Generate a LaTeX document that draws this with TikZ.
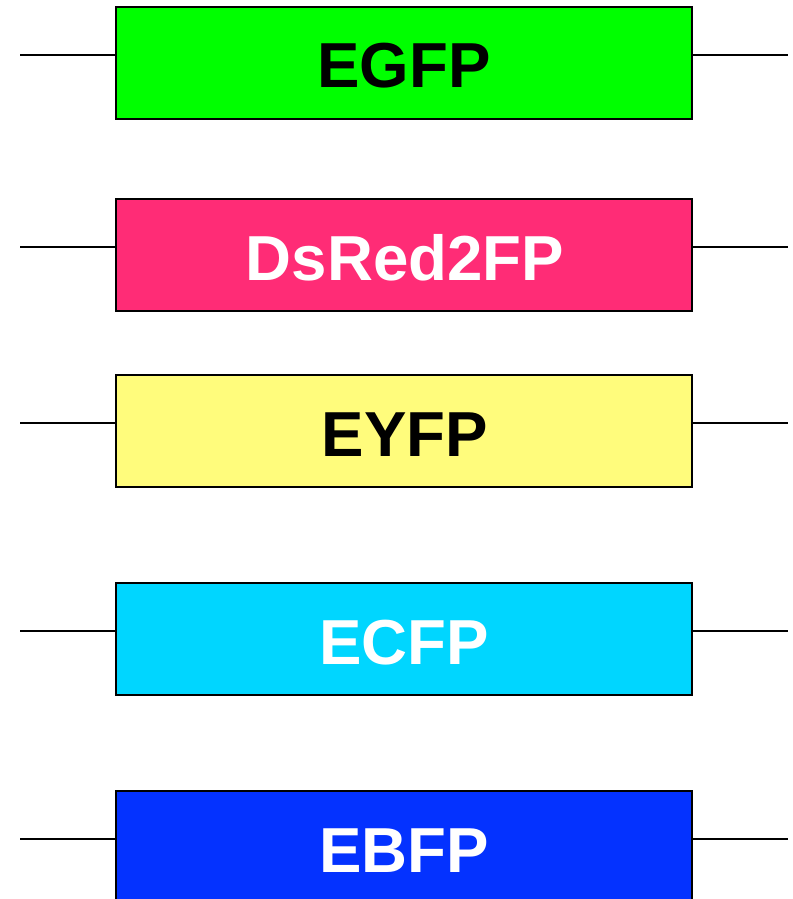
\documentclass[tikz,border=0pt]{standalone}
\usepackage{fontspec}
\setmainfont{Liberation Sans}
\begin{document}
\begin{tikzpicture}[x=1pt,y=-1pt,
  fpbox/.style={draw=black,line width=2pt,minimum width=576pt,minimum height=112pt,inner sep=0pt,outer sep=0pt,anchor=north west},
  fptext/.style={font=\fontsize{63.6}{70}\selectfont\bfseries,anchor=base,inner sep=0pt},
  wire/.style={line width=2pt,draw=black}]
\definecolor{cgreen}{RGB}{0,255,0}
\definecolor{cpink}{RGB}{255,44,118}
\definecolor{cyellow}{RGB}{255,252,124}
\definecolor{ccyan}{RGB}{0,214,255}
\definecolor{cblue}{RGB}{4,50,255}
\useasboundingbox (0,0) rectangle (792,899);
\clip (0,0) rectangle (792,899);
% boxes
\node[fpbox,fill=cgreen] (b1) at (116,7) {};
\node[fpbox,fill=cpink] (b2) at (116,199) {};
\node[fpbox,fill=cyellow] (b3) at (116,375) {};
\node[fpbox,fill=ccyan] (b4) at (116,583) {};
\node[fpbox,fill=cblue] (b5) at (116,791) {};
% labels
\node[fptext,text=black] (t1) at (404,88) {EGFP};
\node[fptext,text=white] (t2) at (405,280) {DsRed2FP};
\node[fptext,text=black] (t3) at (405,456) {EYFP};
\node[fptext,text=white] (t4) at (404,664) {ECFP};
\node[fptext,text=white] (t5) at (404,872) {EBFP};
% wire ends
\coordinate (l1) at (20,55);  \coordinate (r1) at (788,55);
\coordinate (l2) at (20,247); \coordinate (r2) at (788,247);
\coordinate (l3) at (20,423); \coordinate (r3) at (788,423);
\coordinate (l4) at (20,631); \coordinate (r4) at (788,631);
\coordinate (l5) at (20,839); \coordinate (r5) at (788,839);
\foreach \i in {1,...,5}{
  \draw[wire] (l\i) -- (b\i.west |- l\i);
  \draw[wire] (b\i.east |- r\i) -- (r\i);
}
\end{tikzpicture}
\end{document}
